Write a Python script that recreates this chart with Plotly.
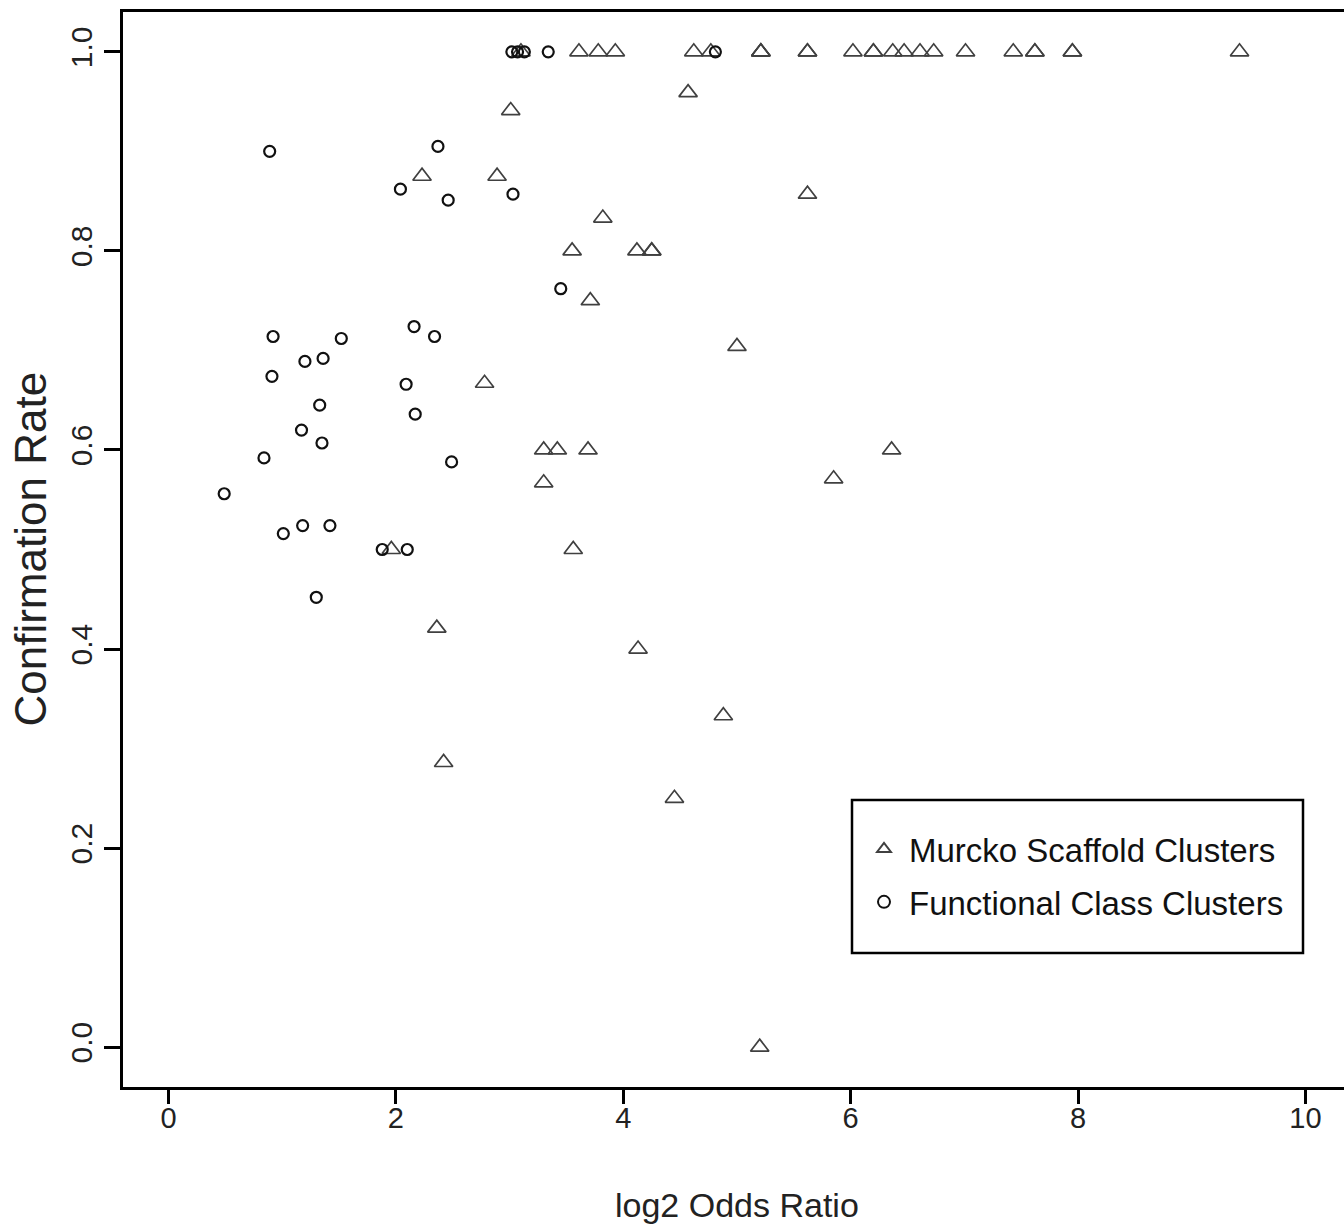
import plotly.graph_objects as go

# ---- data ----
murcko_x = [3.10, 3.61, 3.78, 3.93, 4.62, 4.77, 5.21, 5.21, 5.21, 5.62, 5.62,
            6.02, 6.20, 6.20, 6.37, 6.47, 6.61, 6.73, 7.01, 7.43, 7.62, 7.62,
            7.95, 7.95, 9.42,
            3.01, 4.57, 2.23, 2.89, 5.62, 3.82, 3.55, 4.12, 4.25, 4.25, 3.71,
            5.00, 2.78, 3.30, 3.42, 3.69, 6.36, 3.30, 5.85, 3.56, 1.96, 2.36,
            4.13, 4.88, 2.42, 4.45, 5.20]
murcko_y = [1.0, 1.0, 1.0, 1.0, 1.0, 1.0, 1.0, 1.0, 1.0, 1.0, 1.0,
            1.0, 1.0, 1.0, 1.0, 1.0, 1.0, 1.0, 1.0, 1.0, 1.0, 1.0,
            1.0, 1.0, 1.0,
            0.941, 0.959, 0.875, 0.875, 0.857, 0.833, 0.80, 0.80, 0.80, 0.80, 0.75,
            0.704, 0.667, 0.60, 0.60, 0.60, 0.60, 0.567, 0.571, 0.50, 0.50, 0.421,
            0.40, 0.333, 0.286, 0.25, 0.0]

func_x = [3.02, 3.07, 3.13, 3.34, 4.81,
          0.89, 2.37, 2.04, 2.46, 3.03, 3.45, 0.92, 1.52, 2.16, 2.34, 1.36,
          1.20, 0.91, 2.09, 1.33, 2.17, 1.17, 1.35, 0.84, 2.49, 0.49, 1.01,
          1.18, 1.42, 1.88, 2.10, 1.30]
func_y = [1.0, 1.0, 1.0, 1.0, 1.0,
          0.90, 0.905, 0.862, 0.851, 0.857, 0.762, 0.714, 0.712, 0.724, 0.714, 0.692,
          0.689, 0.674, 0.666, 0.645, 0.636, 0.620, 0.607, 0.592, 0.588, 0.556, 0.516,
          0.524, 0.524, 0.50, 0.50, 0.452]

x_ticks = [0, 2, 4, 6, 8, 10]
x_tick_labels = ["0", "2", "4", "6", "8", "10"]
y_ticks = [0.0, 0.2, 0.4, 0.6, 0.8, 1.0]
y_tick_labels = ["0.0", "0.2", "0.4", "0.6", "0.8", "1.0"]

series_names = ["Murcko Scaffold Clusters", "Functional Class Clusters"]
x_title = "log2 Odds Ratio"
y_title = "Confirmation Rate"

FONT = "Liberation Sans, Arial, sans-serif"

fig = go.Figure()
fig.add_trace(go.Scatter(
    x=murcko_x, y=murcko_y, mode="markers", name=series_names[0],
    legendgroup="g1",
    marker=dict(symbol="triangle-up-open", size=16, color="#404040",
                line=dict(width=1.7, color="#404040")),
))
fig.add_trace(go.Scatter(
    x=func_x, y=func_y, mode="markers", name=series_names[1],
    legendgroup="g2",
    marker=dict(symbol="circle-open", size=11, color="#111111",
                line=dict(width=2.2, color="#111111")),
))

W, H = 1344, 1226
L, T, B = 123, 12, 1226 - 1087
plot_w = W - L
plot_h = 1087 - T
px_per_unit = 113.7
x_lo = -0.4
x_hi = x_lo + plot_w / px_per_unit

fig.update_layout(
    width=W, height=H,
    margin=dict(l=L, r=0, t=T, b=B, pad=0),
    paper_bgcolor="white", plot_bgcolor="white",
    showlegend=True,
    legend=dict(
        x=(859 - L) / plot_w, y=(1087 - 821) / plot_h,
        xanchor="left", yanchor="top",
        bgcolor="rgba(0,0,0,0)", borderwidth=0,
        font=dict(family=FONT, size=33, color="#111"),
        itemsizing="constant", tracegroupgap=7, itemwidth=40,
    ),
    shapes=[dict(type="rect", xref="paper", yref="paper",
                 x0=(852 - L) / plot_w, x1=(1303 - L) / plot_w,
                 y0=(1087 - 953) / plot_h, y1=(1087 - 800) / plot_h,
                 line=dict(color="black", width=2.5), fillcolor="white",
                 layer="below")],
    xaxis=dict(
        range=[x_lo, x_hi], showgrid=False, zeroline=False,
        showline=True, linecolor="black", linewidth=2.5, mirror=True,
        ticks="outside", ticklen=14, tickwidth=2.5, tickcolor="black",
        tickvals=x_ticks, ticktext=x_tick_labels, ticklabelstandoff=-11,
        tickfont=dict(family=FONT, size=29, color="#222"),
    ),
    yaxis=dict(
        range=[-0.04, 1.04], showgrid=False, zeroline=False,
        showline=True, linecolor="black", linewidth=2.5, mirror=False,
        ticks="outside", ticklen=16, tickwidth=2.5, tickcolor="black",
        tickvals=y_ticks, ticktext=y_tick_labels, tickangle=-90,
        tickfont=dict(family=FONT, size=30, color="#222"),
    ),
    annotations=[
        dict(text=x_title, xref="x", yref="paper", x=5.0,
             y=(1087 - 1205) / plot_h, xanchor="center", yanchor="middle",
             showarrow=False, font=dict(family=FONT, size=34, color="#222")),
        dict(text=y_title, xref="paper", yref="paper", x=(30 - L) / plot_w,
             y=0.5, xanchor="center", yanchor="middle", textangle=-90,
             showarrow=False, font=dict(family=FONT, size=44, color="#222")),
    ],
)

fig.write_html(
    "out.html",
    config={"displayModeBar": False},
    post_script="document.body.style.margin='0';document.body.style.overflow='hidden';",
)
